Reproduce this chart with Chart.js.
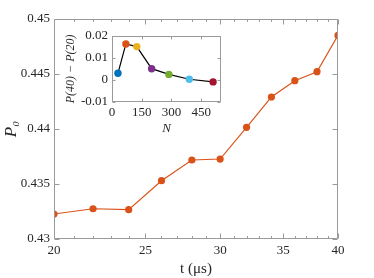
<!DOCTYPE html>
<html>
<head>
<meta charset="utf-8">
<script src="https://cdn.jsdelivr.net/npm/chart.js"></script>
<style>
  html, body { margin: 0; padding: 0; background: #fff; }
  #wrap { position: relative; width: 374px; height: 278px; }
  #main { position: absolute; left: 0; top: 0; }
  #inset { position: absolute; left: 58px; top: 24px; }
</style>
</head>
<body>
<div id="wrap">
  <canvas id="main" width="374" height="278"></canvas>
  <canvas id="inset" width="172" height="114"></canvas>
</div>
<script>
// main panel: P0 against t (log x axis)
const tValues = [20, 22, 24, 26, 28, 30, 32, 34, 36, 38, 40];
const p0Values = [0.43227, 0.43275, 0.43267, 0.4353, 0.43718, 0.43727, 0.44015, 0.44291, 0.44439, 0.44521, 0.44851];
const tTicks = [20, 25, 30, 35, 40];
const tMinorTicks = [21, 22, 23, 24, 26, 27, 28, 29, 31, 32, 33, 34, 36, 37, 38, 39];
const p0Ticks = [0.43, 0.435, 0.44, 0.445, 0.45];
const p0TickLabels = ['0.43', '0.435', '0.44', '0.445', '0.45'];

// inset: P(40) - P(20) against N
const nValues = [30, 70, 125, 200, 287, 390, 510];
const diffValues = [0.003, 0.0163, 0.0151, 0.0051, 0.0025, 0.0003, -0.0009];
const nTicks = [0, 150, 300, 450];
const diffTicks = [-0.01, 0, 0.01, 0.02];
const diffTickLabels = ['-0.01', '0', '0.01', '0.02'];
const insetColors = ['#0072BD', '#D95319', '#EDB120', '#7E2F8E', '#77AC30', '#4DBEEE', '#A2142F'];

const FONT = "'Liberation Serif', 'Times New Roman', serif";
const TEXT = '#262626';
const AXIS = '#9a9a9a';

// box around the plot with inward ticks on all four sides
const boxTicks = {
  id: 'boxTicks',
  afterDraw(chart, args, opts) {
    const { ctx, chartArea: a, scales } = chart;
    const L = Math.round(a.left) + 0.5, R = Math.round(a.right) - 0.5;
    const T = Math.round(a.top) + 0.5, B = Math.round(a.bottom) - 0.5;
    ctx.save();
    ctx.strokeStyle = opts.color;
    ctx.lineWidth = 1;
    ctx.beginPath();
    ctx.rect(L, T, R - L, B - T);
    const xTicks = (vals, len) => vals.forEach(v => {
      const px = Math.round(scales.x.getPixelForValue(v)) + 0.5;
      ctx.moveTo(px, B); ctx.lineTo(px, B - len);
      ctx.moveTo(px, T); ctx.lineTo(px, T + len);
    });
    const yTicks = (vals, len) => vals.forEach(v => {
      const py = Math.round(scales.y.getPixelForValue(v)) + 0.5;
      ctx.moveTo(L, py); ctx.lineTo(L + len, py);
      ctx.moveTo(R, py); ctx.lineTo(R - len, py);
    });
    xTicks(opts.xMajor, opts.major);
    xTicks(opts.xMinor || [], opts.minor);
    yTicks(opts.yMajor, opts.major);
    ctx.stroke();
    ctx.restore();
  }
};

function fixedTicks(values) {
  return scale => { scale.ticks = values.map(v => ({ value: v })); };
}

new Chart(document.getElementById('main'), {
  type: 'line',
  data: {
    datasets: [{
      data: tValues.map((t, i) => ({ x: t, y: p0Values[i] })),
      borderColor: '#D95319',
      backgroundColor: '#D95319',
      borderWidth: 1.2,
      pointRadius: 3.6,
      pointBorderWidth: 0,
      tension: 0
    }]
  },
  options: {
    responsive: false,
    devicePixelRatio: 1,
    animation: false,
    layout: { padding: { left: 0, right: 36, top: 19, bottom: 0 } },
    plugins: {
      legend: { display: false },
      tooltip: { enabled: false },
      boxTicks: { color: AXIS, major: 5, minor: 2.5, xMajor: tTicks, xMinor: tMinorTicks, yMajor: p0Ticks }
    },
    scales: {
      x: {
        type: 'logarithmic',
        min: 20, max: 40,
        afterBuildTicks: fixedTicks(tTicks),
        afterFit: s => { s.height = 39; },
        grid: { display: false, drawTicks: false },
        border: { display: false },
        ticks: {
          padding: 4, color: TEXT, maxRotation: 0, autoSkip: false,
          font: { family: FONT, size: 13 },
          callback: v => String(v)
        },
        title: {
          display: true, text: 't (μs)', color: TEXT,
          font: { family: FONT, size: 15 }, padding: { top: 0, bottom: 0 }
        }
      },
      y: {
        min: 0.43, max: 0.45,
        afterBuildTicks: fixedTicks(p0Ticks),
        afterFit: s => { s.width = 54; },
        grid: { display: false, drawTicks: false },
        border: { display: false },
        ticks: {
          padding: 4, color: TEXT,
          font: { family: FONT, size: 13 },
          callback: (v, i) => p0TickLabels[i]
        },
        title: {
          display: true, text: 'P₀', color: TEXT,
          font: { family: FONT, size: 17, style: 'italic' }, padding: { top: 1, bottom: 0 }
        }
      }
    }
  },
  plugins: [boxTicks]
});

new Chart(document.getElementById('inset'), {
  type: 'line',
  data: {
    datasets: [{
      data: nValues.map((n, i) => ({ x: n, y: diffValues[i] })),
      borderColor: '#000000',
      backgroundColor: insetColors,
      pointBackgroundColor: insetColors,
      borderWidth: 1.2,
      pointRadius: 3.7,
      pointBorderWidth: 0,
      tension: 0
    }]
  },
  options: {
    responsive: false,
    devicePixelRatio: 1,
    animation: false,
    layout: { padding: { left: 0, right: 9, top: 8, bottom: 0 } },
    plugins: {
      legend: { display: false },
      tooltip: { enabled: false },
      boxTicks: { color: AXIS, major: 3, minor: 0, xMajor: nTicks, yMajor: diffTicks }
    },
    scales: {
      x: {
        type: 'linear',
        min: 0, max: 550,
        afterBuildTicks: fixedTicks(nTicks),
        afterFit: s => { s.height = 36; },
        grid: { display: false, drawTicks: false },
        border: { display: false },
        ticks: {
          padding: 3, color: TEXT, maxRotation: 0, autoSkip: false,
          font: { family: FONT, size: 13 },
          callback: v => String(v)
        },
        title: {
          display: true, text: 'N', color: TEXT,
          font: { family: FONT, size: 13, style: 'italic' }, padding: { top: 0, bottom: 2 }
        }
      },
      y: {
        min: -0.01, max: 0.02,
        afterBuildTicks: fixedTicks(diffTicks),
        afterFit: s => { s.width = 54; },
        grid: { display: false, drawTicks: false },
        border: { display: false },
        ticks: {
          padding: 4, color: TEXT,
          font: { family: FONT, size: 13 },
          callback: (v, i) => diffTickLabels[i]
        },
        title: {
          display: true, text: 'P(40) − P(20)', color: TEXT,
          font: { family: FONT, size: 12, style: 'italic' }, padding: { top: 6, bottom: 0 }
        }
      }
    }
  },
  plugins: [boxTicks]
});
</script>
</body>
</html>
